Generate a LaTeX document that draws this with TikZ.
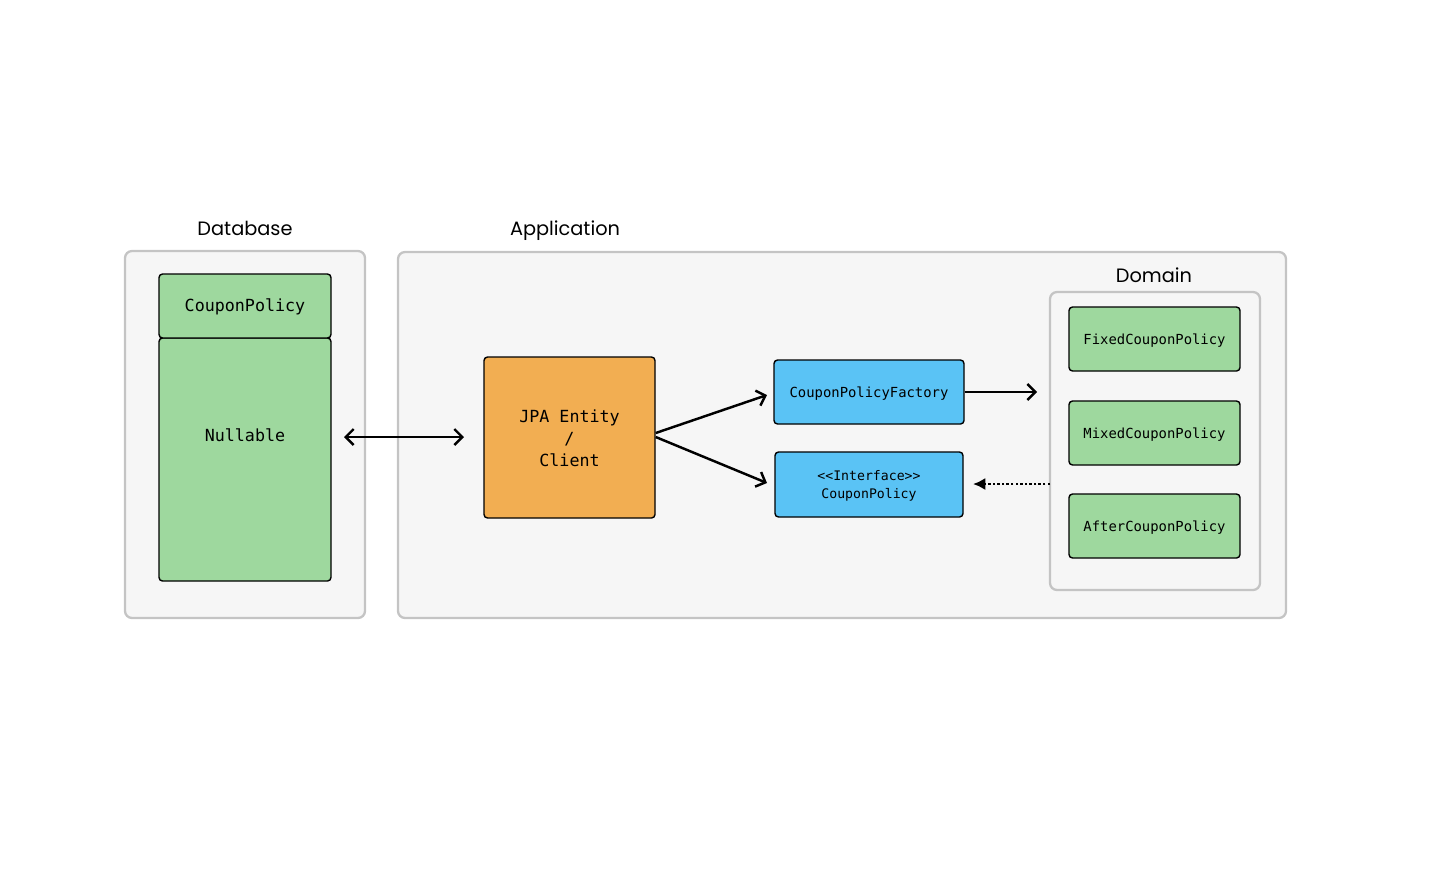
\documentclass[tikz,border=0pt]{standalone}
\usepackage{fontspec}
\setmonofont{DejaVu Sans Mono}
\newfontfamily\titlefont{Poppins}
\usetikzlibrary{arrows.meta}
\definecolor{panelfill}{HTML}{F6F6F6}
\definecolor{panelline}{HTML}{C4C4C4}
\definecolor{greenbox}{HTML}{9ED89E}
\definecolor{orangebox}{HTML}{F2AE52}
\definecolor{bluebox}{HTML}{5AC3F5}
\begin{document}
\begin{tikzpicture}[x=0.02cm,y=-0.02cm,
  panel/.style={draw=panelline,fill=panelfill,line width=1.3pt,rounded corners=4pt},
  box/.style={draw=black,line width=0.8pt,rounded corners=2pt,inner sep=0pt},
  oneline/.style={text height=1.4ex,text depth=0pt},
  title/.style={font=\titlefont\fontsize{11}{13}\selectfont,anchor=base},
  bigcode/.style={font=\ttfamily\fontsize{9.5}{12}\selectfont},
  code/.style={font=\ttfamily\fontsize{7.9}{10}\selectfont},
  smallcode/.style={font=\ttfamily\fontsize{7.5}{9.5}\selectfont},
  tipb/.tip={Straight Barb[length=4.5pt,width=9pt,line width=1.4pt]},
  conn/.style={line width=1.4pt,-tipb},
]
\useasboundingbox (0,0) rectangle (1432,877);
% panels
\draw[panel] (125,251) rectangle (365,618);
\draw[panel] (398,252) rectangle (1286,618);
\draw[panel] (1050,292) rectangle (1260,590);
\node[title] (dbt) at (245,235) {Database};
\node[title] (appt) at (565,235) {Application};
\node[title] (domt) at (1154,282) {Domain};
% database boxes
\node[box,fill=greenbox,minimum width=172*0.02cm,minimum height=243*0.02cm] (nul) at (245,459.5) {};
\node[bigcode] (nullab) at (245,435) {Nullable};
\node[box,fill=greenbox,minimum width=172*0.02cm,minimum height=64*0.02cm,bigcode,oneline] (cp) at (245,306) {CouponPolicy};
% application
\node[box,fill=orangebox,minimum width=171*0.02cm,minimum height=161*0.02cm] (jpa) at (569.5,437.5) {};
\node[bigcode,align=center] (jpat) at (569.5,438) {JPA Entity\\[0.5pt]/\\[0.5pt]Client};
\node[box,fill=bluebox,minimum width=190*0.02cm,minimum height=64*0.02cm,code,oneline] (fac) at (869,392) {CouponPolicyFactory};
\node[box,fill=bluebox,minimum width=188*0.02cm,minimum height=65*0.02cm] (intf) at (869,484.5) {};
\node[smallcode,align=center] (intft) at (869,486) {<<Interface>>\\[0.8pt]CouponPolicy};
% domain
\node[box,fill=greenbox,minimum width=171*0.02cm,minimum height=64*0.02cm,code,oneline] (fix) at (1154.5,339) {FixedCouponPolicy};
\node[box,fill=greenbox,minimum width=171*0.02cm,minimum height=64*0.02cm,code,oneline] (mix) at (1154.5,433) {MixedCouponPolicy};
\node[box,fill=greenbox,minimum width=171*0.02cm,minimum height=64*0.02cm,code,oneline] (aft) at (1154.5,526) {AfterCouponPolicy};
% connectors
\coordinate (dbR) at (344,437);
\coordinate (appL) at (464,437);
\draw[line width=1.4pt,tipb-tipb] (dbR) -- (appL);
\draw[conn] (jpa.east |- 0,433) -- (767,395);
\draw[conn] (jpa.east |- 0,437) -- (767,483);
\coordinate (facEnd) at (1037,392);
\draw[conn] (fac.east) -- (facEnd);
\coordinate (domL) at (1050,484);
\coordinate (intfR) at (973,484);
\draw[line width=1.6pt,dash pattern=on 1.4pt off 1.2pt,-{Latex[length=7pt,width=7pt]}] (domL) -- (intfR);
\end{tikzpicture}
\end{document}
